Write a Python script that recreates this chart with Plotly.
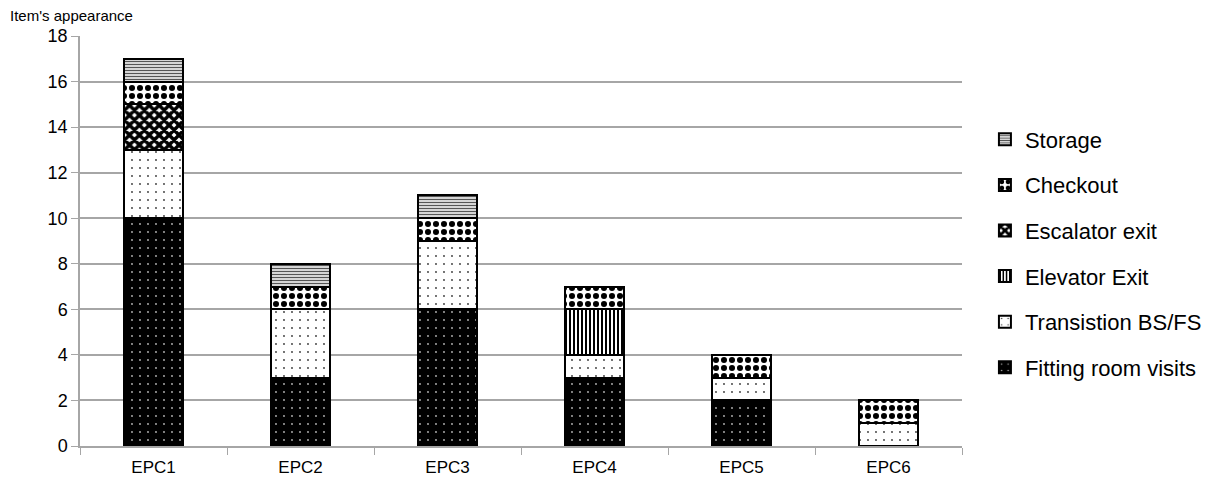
import plotly.graph_objects as go

categories = ["EPC1", "EPC2", "EPC3", "EPC4", "EPC5", "EPC6"]
fitting_room = [10, 3, 6, 3, 2, 0]
transition = [3, 3, 3, 1, 1, 1]
elevator = [0, 0, 0, 2, 0, 0]
escalator = [2, 0, 0, 0, 0, 0]
checkout = [1, 1, 1, 1, 1, 1]
storage = [1, 1, 1, 0, 0, 0]
y_ticks = [0, 2, 4, 6, 8, 10, 12, 14, 16, 18]

series = [
    ("Fitting room visits", fitting_room, dict(shape=".", bgcolor="black", fgcolor="#bbbbbb", size=8, solidity=0.04)),
    ("Transistion BS/FS", transition, dict(shape=".", bgcolor="white", fgcolor="#333333", size=8, solidity=0.04)),
    ("Elevator Exit", elevator, dict(shape="|", bgcolor="white", fgcolor="black", size=4, solidity=0.5)),
    ("Escalator exit", escalator, dict(shape="x", bgcolor="white", fgcolor="black", size=7, solidity=0.75)),
    ("Checkout", checkout, dict(shape=".", bgcolor="white", fgcolor="black", size=8, solidity=0.45)),
    ("Storage", storage, dict(shape="-", bgcolor="white", fgcolor="#555555", size=3, solidity=0.5)),
]

fig = go.Figure()
n = len(series)
for i, (name, vals, pat) in enumerate(series):
    fig.add_trace(go.Bar(
        x=categories, y=vals, name=name, legendgroup=name, legendrank=n - i,
        width=0.4,
        marker=dict(color=pat["bgcolor"], pattern=dict(fillmode="replace", **pat),
                    line=dict(color="black", width=2)),
    ))

fig.update_layout(
    barmode="stack",
    width=1219, height=481,
    paper_bgcolor="white", plot_bgcolor="white",
    margin=dict(l=72, r=265, t=28, b=43),
    font=dict(family="Liberation Sans, Arial, sans-serif", color="black", size=17),
    legend=dict(x=1.026, y=0.4695, yanchor="middle", xanchor="left",
                traceorder="grouped", tracegroupgap=14,
                font=dict(size=22)),
    title=dict(text="Item's appearance", xref="container", yref="container",
               x=2 / 1219, y=1 - 2 / 481, xanchor="left", yanchor="top",
               font=dict(size=15), pad=dict(t=0, l=0)),
)
fig.update_yaxes(range=[0, 18], tickvals=y_ticks, showgrid=True, gridcolor="#a6a6a6",
                 gridwidth=1.5, showline=True, linecolor="#a6a6a6", linewidth=1.5,
                 ticks="outside", ticklen=7, tickcolor="#a6a6a6", zeroline=False,
                 tickfont=dict(size=18))
fig.update_xaxes(showline=True, linecolor="#a6a6a6", linewidth=1.5,
                 ticks="outside", ticklen=7, tickcolor="#a6a6a6", tickson="boundaries",
                 ticklabelstandoff=5, tickfont=dict(size=17))

fig.write_html("out.html")
